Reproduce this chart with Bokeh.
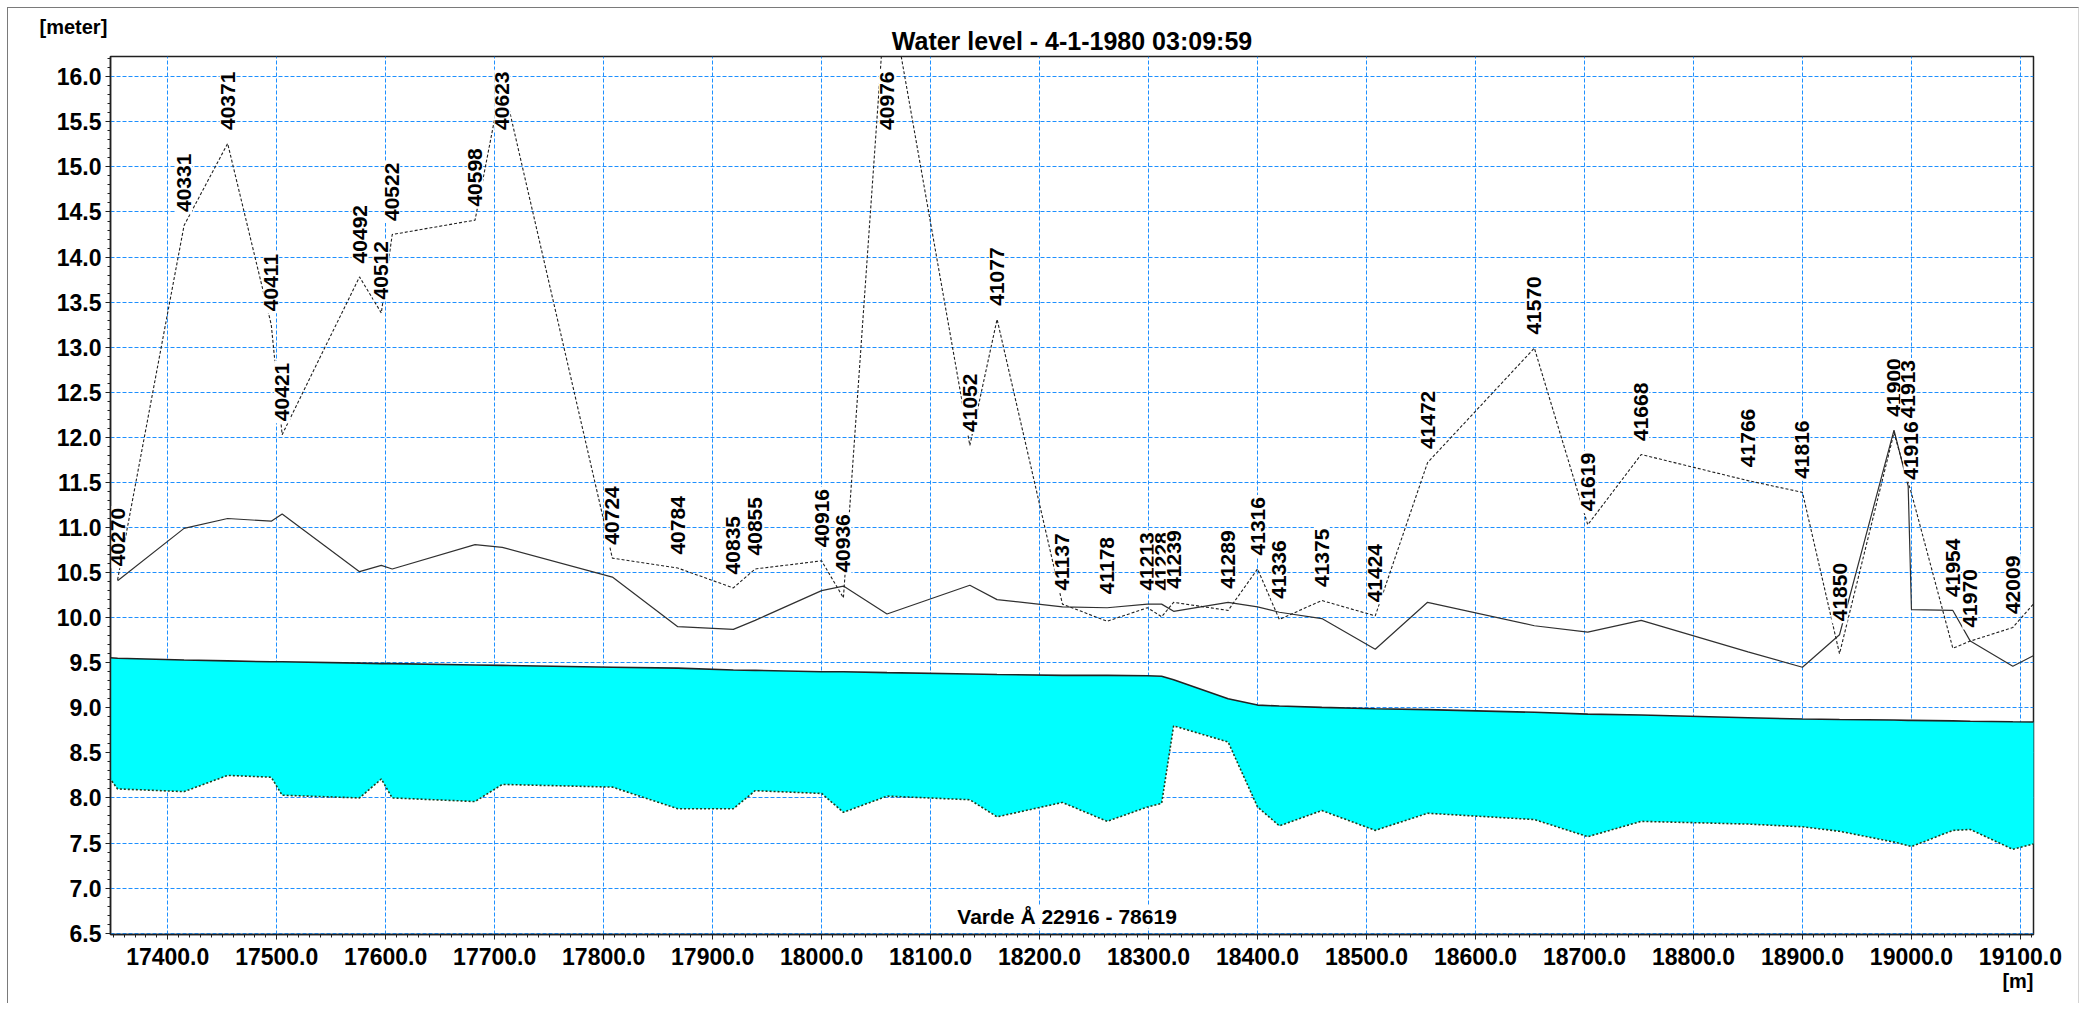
import math
from bokeh.plotting import figure
from bokeh.models import Label, Title, SingleIntervalTicker, PrintfTickFormatter, Range1d
from bokeh.core.properties import value
from bokeh.embed import file_html
from bokeh.resources import INLINE

# ---------------- data ----------------
section_ids = ["40270", "40331", "40371", "40411", "40421", "40492", "40512", "40522",
               "40598", "40623", "40724", "40784", "40835", "40855", "40916", "40936",
               "40976", "41052", "41077", "41137", "41178", "41213", "41228", "41239",
               "41289", "41316", "41336", "41375", "41424", "41472", "41570", "41619",
               "41668", "41766", "41816", "41850", "41900", "41913", "41916", "41954",
               "41970", "42009"]
chainage = [17354, 17415, 17455, 17495, 17505, 17576, 17596, 17606,
            17682, 17707, 17808, 17868, 17919, 17939, 18000, 18020,
            18060, 18136, 18161, 18221, 18262, 18299, 18312, 18323,
            18373, 18400, 18420, 18459, 18508, 18556, 18654, 18703,
            18752, 18850, 18900, 18934, 18984, 18997, 19000, 19038,
            19054, 19093]
# left bank (dotted) and right bank (solid) levels per section
left_bank = [10.42, 14.35, 15.26, 13.25, 12.03, 13.78, 13.38, 14.25,
             14.41, 15.97, 10.66, 10.55, 10.33, 10.54, 10.63, 10.22,
             17.12, 11.91, 13.31, 10.15, 9.96, 10.11, 10.01, 10.17,
             10.08, 10.54, 9.98, 10.19, 10.02, 11.72, 12.99, 11.03,
             11.81, 11.52, 11.39, 9.60, 12.05, 11.50, 11.38, 9.66,
             9.74, 9.89]
right_bank = [10.41, 10.99, 11.10, 11.07, 11.15, 10.51, 10.58, 10.54,
              10.81, 10.78, 10.45, 9.90, 9.87, 9.97, 10.30, 10.35,
              10.04, 10.36, 10.20, 10.12, 10.11, 10.15, 10.15, 10.07,
              10.17, 10.12, 10.06, 9.99, 9.65, 10.17, 9.91, 9.84,
              9.97, 9.62, 9.45, 9.81, 12.08, 11.46, 10.09, 10.08,
              9.74, 9.46]
# neighbouring sections just outside the shown reach
upstream_x = 17340
downstream_x = 19125
downstream_left_bank = 10.33
downstream_right_bank = 9.66

water_level = [9.56,
               9.55, 9.53, 9.52, 9.51, 9.51, 9.495, 9.49, 9.49,
               9.475, 9.47, 9.45, 9.44, 9.42, 9.415, 9.40, 9.40,
               9.39, 9.375, 9.37, 9.36, 9.36, 9.355, 9.35, 9.31,
               9.10, 9.03, 9.02, 9.005, 8.99, 8.98, 8.95, 8.93,
               8.92, 8.89, 8.875, 8.87, 8.865, 8.86, 8.86, 8.855,
               8.85, 8.845,
               8.842]
bed_level = [8.33,
             8.10, 8.07, 8.25, 8.23, 8.03, 8.00, 8.21, 8.00,
             7.96, 8.15, 8.12, 7.88, 7.88, 8.08, 8.05, 7.84,
             8.02, 7.98, 7.79, 7.95, 7.74, 7.90, 7.94, 8.80,
             8.62, 7.90, 7.69, 7.86, 7.64, 7.83, 7.76, 7.57,
             7.74, 7.71, 7.68, 7.63, 7.51, 7.47, 7.46, 7.64,
             7.65, 7.43,
             7.53]

title_text = "Water level - 4-1-1980 03:09:59"
reach_text = "Varde Å  22916 - 78619"
y_unit_text = "[meter]"
x_unit_text = "[m]"

# ---------------- layout ----------------
X0, X1 = 17347.5, 19112.0
Y0, Y1 = 6.485, 16.225
W, H = 2072, 996
ML, MR, MT, MB = 102, 47, 48, 70
frame_w = W - ML - MR
frame_h = H - MT - MB
ppx = frame_w / (X1 - X0)
ppy = frame_h / (Y1 - Y0)

FONT = "Liberation Sans"
GRID = "#1E90FF"

p = figure(width=W, height=H, output_backend="svg", toolbar_location=None,
           x_range=Range1d(X0, X1), y_range=Range1d(Y0, Y1),
           min_border_left=ML, min_border_right=MR,
           min_border_top=MT, min_border_bottom=MB)
p.title.visible = False
p.title.text = ""
p.styles = {"margin-left": "7px", "margin-top": "7px",
            "border-top": "1px solid #7a7a7a", "border-left": "1px solid #7a7a7a",
            "border-right": "1px solid #d4d4d4"}
p.background_fill_color = "white"
p.border_fill_color = "white"
p.outline_line_color = "#202020"
p.outline_line_width = 1.5

# titles live in the side panels so they are not clipped to the frame
p.add_layout(Title(text=title_text, align="center", standoff=4,
                   text_font=FONT, text_font_style="bold", text_font_size="25px",
                   text_color="black"), "above")
meter_title = Title(text=y_unit_text, align="left", offset=-71, standoff=-31,
                    text_font=FONT, text_font_style="bold", text_font_size="20px",
                    text_color="black")
if "padding" in Title.properties():
    meter_title.padding = (0, 0, 12, 0)
p.add_layout(meter_title, "above")
p.add_layout(Title(text=x_unit_text, align="right", standoff=0,
                   text_font=FONT, text_font_style="bold", text_font_size="20px",
                   text_color="black"), "below")

p.xaxis.ticker = SingleIntervalTicker(interval=100, num_minor_ticks=10)
p.yaxis.ticker = SingleIntervalTicker(interval=0.5, num_minor_ticks=5)
p.xaxis.formatter = PrintfTickFormatter(format="%.1f")
p.yaxis.formatter = PrintfTickFormatter(format="%.1f")
for ax in (p.xaxis, p.yaxis):
    ax.axis_line_color = "#202020"
    ax.axis_line_width = 1.5
    ax.major_tick_line_color = "#202020"
    ax.minor_tick_line_color = "#202020"
    ax.major_tick_in = 0
    ax.major_tick_out = 5
    ax.minor_tick_in = 0
    ax.minor_tick_out = 3
    ax.major_label_text_font = FONT
    ax.major_label_text_font_style = "bold"
    ax.major_label_text_font_size = "23px"
    ax.major_label_text_color = "black"
p.xaxis.major_label_standoff = 8
p.yaxis.major_label_standoff = 4

p.xgrid.grid_line_color = GRID
p.ygrid.grid_line_color = GRID
p.xgrid.grid_line_dash = "4 2"
p.ygrid.grid_line_dash = "4 2"
p.xgrid.grid_line_width = 1
p.ygrid.grid_line_width = 1

prof_x = [upstream_x] + chainage + [downstream_x]
line_x = chainage + [downstream_x]
lb = left_bank + [downstream_left_bank]
rb = right_bank + [downstream_right_bank]

p.varea(x=prof_x, y1=bed_level, y2=water_level, fill_color="#00FFFF")
p.line(prof_x, bed_level, line_color="#1e3d1e", line_width=1.6, line_dash="2 2")
p.line(prof_x, water_level, line_color="#222222", line_width=1.6)
p.line(line_x, rb, line_color="#303030", line_width=1.2)
p.line(line_x, lb, line_color="#202020", line_width=1.1, line_dash="3 2")

# ---------------- section labels ----------------
LABEL_FS = 21
label_px = 5 * 0.556 * LABEL_FS + 2
label_len = label_px / ppy
gap = 12.5 / ppy
top_limit = Y1 - (label_px + 14) / ppy
n = len(section_ids)
base = [min(max(a, b) + gap, top_limit) for a, b in zip(left_bank, right_bank)]
placed = [None] * n
for i in reversed(range(n)):
    yb = base[i]
    for j in range(i + 1, n):
        if abs(chainage[j] - chainage[i]) < 8 and placed[j] is not None:
            if yb < placed[j] + label_len and placed[j] < yb + label_len:
                yb = placed[j] + label_len + 1 / ppy
    placed[i] = yb

for i in range(n):
    yc = placed[i] + label_len / 2
    p.rect(x=[chainage[i]], y=[yc], width=16, height=label_px + 2,
           width_units="screen", height_units="screen",
           fill_color="white", line_color=None)
    p.text(x=[chainage[i]], y=[placed[i] + 1 / ppy], text=[section_ids[i]],
           angle=math.pi / 2, text_align="left", text_baseline="middle",
           text_font=value(FONT), text_font_style="bold",
           text_font_size=f"{LABEL_FS}px", text_color="black")

p.add_layout(Label(x=X0 + (1061.5 - ML) / ppx, y=Y0 + 18 / ppy, text=reach_text,
                   text_align="center", text_baseline="middle",
                   text_font=FONT, text_font_style="bold", text_font_size="21px",
                   text_color="black", background_fill_color="white"))

open("out.html", "w").write(file_html(p, INLINE))
